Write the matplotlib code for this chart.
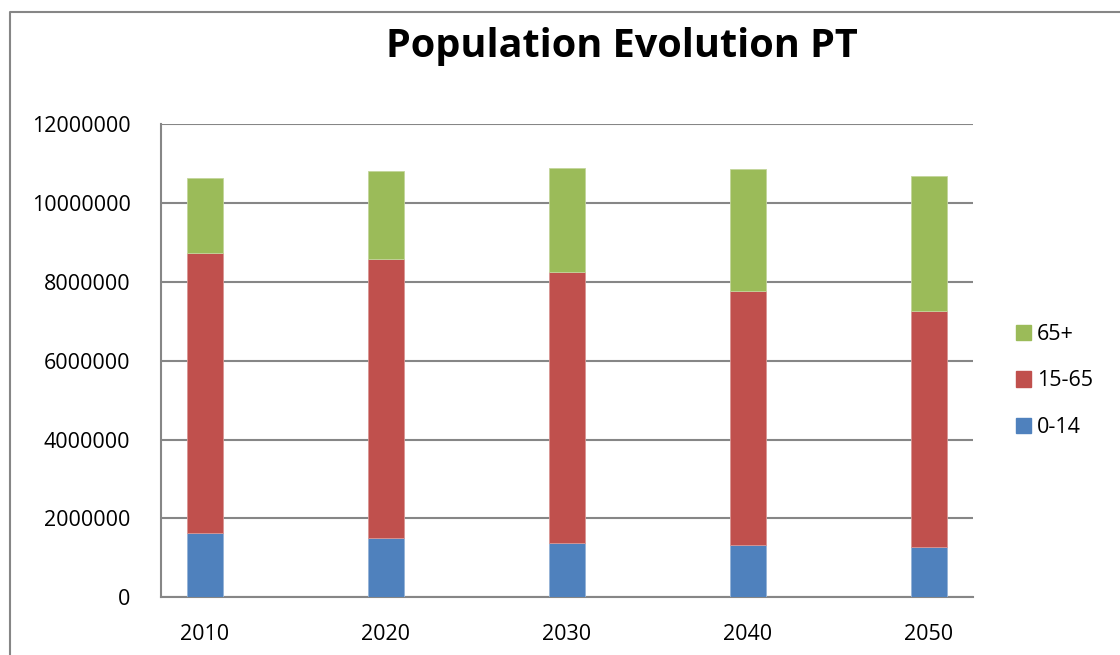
import matplotlib
matplotlib.use('Agg')
import matplotlib.pyplot as plt
import matplotlib.patches as Patch
from matplotlib.lines import Line2D
import numpy as np

years = ['2010', '2020', '2030', '2040', '2050']
age_0_14 = [1624000, 1497000, 1370000, 1327000, 1284000]
age_15_65 = [7118000, 7093000, 6880000, 6453000, 5976000]
age_65_plus = [1888000, 2230000, 2630000, 3085000, 3430000]

blue = '#4F81BD'
red = '#C0504D'
green = '#9BBB59'
grid_col = '#868686'

plt.rcParams['font.family'] = ['Open Sans', 'DejaVu Sans']

W, H = 1120, 655
fig = plt.figure(figsize=(W / 100, H / 100), dpi=100)
ax = fig.add_axes([161 / W, 1 - 597.3 / H, (972.7 - 161) / W, (597.3 - 124.3) / H])

x = np.arange(len(years))
bw = 0.2
ax.bar(x, age_0_14, bw, color=blue, edgecolor='#95B3D7', linewidth=0.6, zorder=3)
bottom2 = np.array(age_0_14)
ax.bar(x, age_15_65, bw, bottom=bottom2, color=red, edgecolor='#D99694', linewidth=0.6, zorder=3)
bottom3 = bottom2 + np.array(age_15_65)
ax.bar(x, age_65_plus, bw, bottom=bottom3, color=green, edgecolor='#C3D69B', linewidth=0.6, zorder=3)

ax.set_xlim(-0.243, 4.243)
ax.set_ylim(0, 12000000)
ax.set_yticks(range(0, 12000001, 2000000))
ax.set_yticklabels([str(v) for v in range(0, 12000001, 2000000)])
ax.set_xticks(x)
ax.set_xticklabels(years)
ax.yaxis.grid(True, color=grid_col, linewidth=1.5, zorder=0)
ax.set_axisbelow(True)
for s in ['top', 'right']:
    ax.spines[s].set_visible(False)
for s in ['left', 'bottom']:
    ax.spines[s].set_color(grid_col)
    ax.spines[s].set_linewidth(1.5)
ax.tick_params(axis='both', length=0, labelsize=15.5, colors='black')
ax.tick_params(axis='y', pad=22)
ax.tick_params(axis='x', pad=19)

fig.text(622 / W, 1 - 46 / H, 'Population Evolution PT', ha='center', va='center',
         fontsize=28.5, fontweight='bold')

handles = [Patch.Patch(color=green, label='65+'),
           Patch.Patch(color=red, label='15-65'),
           Patch.Patch(color=blue, label='0-14')]
fig.legend(handles=handles, loc='center left', bbox_to_anchor=(997 / W, 1 - 381 / H),
           frameon=False, fontsize=15.5, handlelength=0.7, handleheight=0.7,
           handletextpad=0.25, labelspacing=1.2)

# outer chart border
fig.add_artist(Line2D([10 / W, 10 / W, 1.0], [0.0, 1 - 12 / H, 1 - 12 / H],
                      transform=fig.transFigure, color=grid_col, linewidth=1.5))

plt.savefig('out.png', dpi=100)
